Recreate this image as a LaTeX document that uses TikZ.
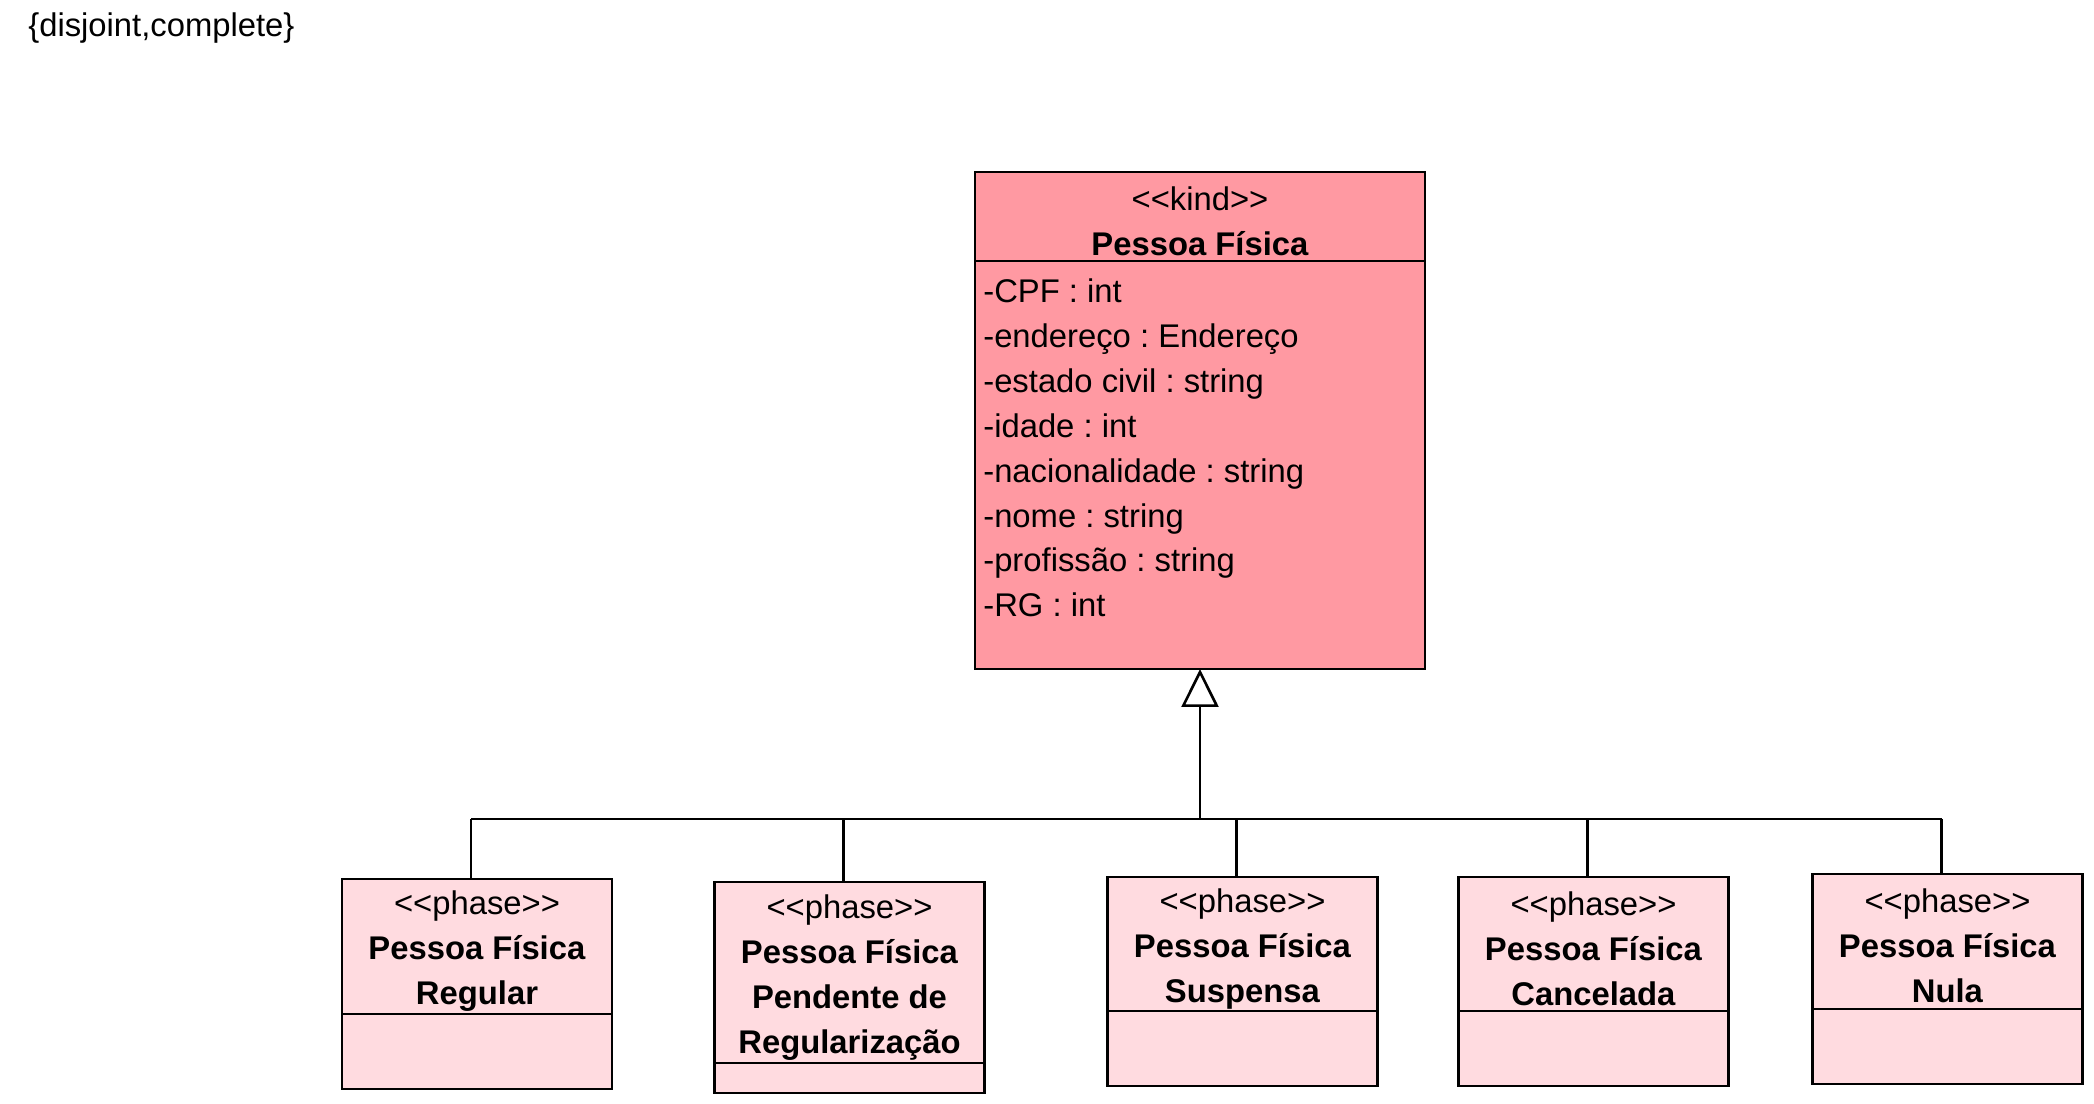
\documentclass[tikz,border=0pt]{standalone}
\usepackage{fontspec}
\newfontfamily\umlfont{Liberation Sans}
\usepackage{xcolor}
\usetikzlibrary{positioning,arrows.meta}
\definecolor{kindfill}{RGB}{255,153,162}
\definecolor{phasefill}{RGB}{255,219,224}
\newcommand{\headstrut}{\rule{0pt}{9.4pt}}
\frenchspacing

\begin{document}
\begin{tikzpicture}[
  every node/.style={font=\umlfont\fontsize{9.33pt}{12.8pt}\selectfont},
  classhead/.style={draw,align=center,inner sep=0pt,outer sep=0pt,minimum width=2.7cm},
  classbody/.style={draw,inner sep=0pt,outer sep=0pt,minimum width=2.7cm},
  kindbox/.style={fill=kindfill},
  phasebox/.style={fill=phasefill},
  genline/.style={-{Triangle[open,length=0.38cm,width=0.37cm]}},
  line width=0.75pt
]
  \useasboundingbox (0,0) rectangle (20.94,-11.04);

  \node[anchor=west,inner sep=0pt] (gsetlabel) at (0.27,-0.28) {\{disjoint,complete\}};

  % kind
  \node[classhead,kindbox,minimum width=4.5cm,minimum height=0.89cm] (pfhead) at (12.00,-2.165)
    {\headstrut<<kind>>\\ \textbf{Pessoa Física}};
  \node[classbody,kindbox,minimum width=4.5cm,minimum height=4.08cm,below=0pt of pfhead] (pfbody) {};
  \node[anchor=north west,align=left,inner xsep=0.07cm,inner ysep=0.16cm] (pfattrs) at (pfbody.north west)
    {-CPF : int\\ -endereço : Endereço\\ -estado civil : string\\ -idade : int\\
     -nacionalidade : string\\ -nome : string\\ -profissão : string\\ -RG : int};

  % phases
  \node[classhead,phasebox,minimum height=1.35cm] (reghead) at (4.77,-9.465)
    {\headstrut<<phase>>\\ \textbf{Pessoa Física}\\ \textbf{Regular}};
  \node[classbody,phasebox,minimum height=0.75cm,below=0pt of reghead] (regbody) {};

  \node[classhead,phasebox,minimum height=1.81cm] (penhead) at (8.495,-9.725)
    {\headstrut<<phase>>\\ \textbf{Pessoa Física}\\ \textbf{Pendente de}\\ \textbf{Regularização}};
  \node[classbody,phasebox,minimum height=0.30cm,below=0pt of penhead] (penbody) {};

  \node[classhead,phasebox,minimum height=1.34cm] (sushead) at (12.425,-9.44)
    {\headstrut<<phase>>\\ \textbf{Pessoa Física}\\ \textbf{Suspensa}};
  \node[classbody,phasebox,minimum height=0.75cm,below=0pt of sushead] (susbody) {};

  \node[classhead,phasebox,minimum height=1.34cm] (canhead) at (15.935,-9.44)
    {\headstrut<<phase>>\\ \textbf{Pessoa Física}\\ \textbf{Cancelada}};
  \node[classbody,phasebox,minimum height=0.75cm,below=0pt of canhead] (canbody) {};

  \node[classhead,phasebox,minimum height=1.35cm] (nulhead) at (19.475,-9.415)
    {\headstrut<<phase>>\\ \textbf{Pessoa Física}\\ \textbf{Nula}};
  \node[classbody,phasebox,minimum height=0.75cm,below=0pt of nulhead] (nulbody) {};

  % generalization set
  \coordinate (genbar) at (12.00,-8.19);
  \coordinate (regstub) at ([xshift=-0.6mm]reghead.north);
  \coordinate (penstub) at ([xshift=-0.6mm]penhead.north);
  \coordinate (susstub) at ([xshift=-0.6mm]sushead.north);
  \coordinate (canstub) at ([xshift=-0.6mm]canhead.north);
  \coordinate (nulstub) at ([xshift=-0.6mm]nulhead.north);

  \draw[genline] (genbar) -- (pfbody.south);
  \draw (regstub |- genbar) -- (nulstub |- genbar);
  \draw (regstub |- genbar) -- (regstub);
  \draw (penstub |- genbar) -- (penstub);
  \draw (susstub |- genbar) -- (susstub);
  \draw (canstub |- genbar) -- (canstub);
  \draw (nulstub |- genbar) -- (nulstub);
\end{tikzpicture}
\end{document}
